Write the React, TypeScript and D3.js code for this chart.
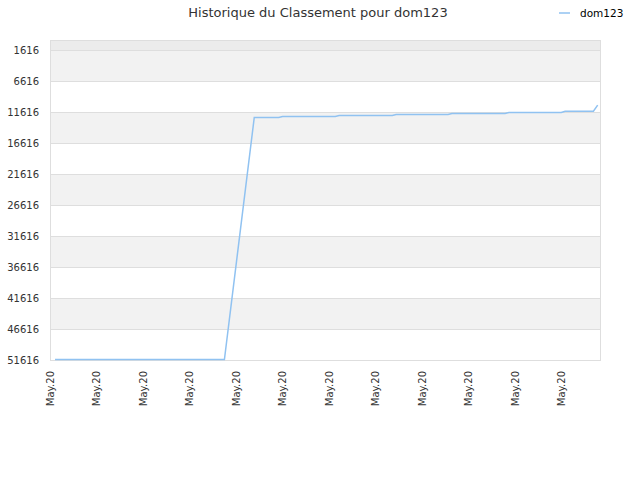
import * as d3 from "d3";

const playerName = "dom123";
const chartTitle = "Historique du Classement pour dom123";

// rank samples (times on 20 May 2020)
const sampleTimes = [
	"00:13", "07:30", "08:47", "09:50", "10:00", "12:16", "12:26", "14:43", "14:53",
	"17:07", "17:17", "19:34", "19:44", "21:59", "22:09", "23:22", "23:33",
];
const sampleRanks = [
	51530, 51530, 12500, 12500, 12340, 12340, 12180, 12180, 12020,
	12020, 11860, 11860, 11700, 11700, 11500, 11500, 10500,
];
const yTicks = [1616, 6616, 11616, 16616, 21616, 26616, 31616, 36616, 41616, 46616, 51616];
const xStart = "00:00";
const xEnd = "23:39";

const parseTime = d3.timeParse("%Y-%m-%d %H:%M");
const day = "2020-05-20";

function App() {
	const width = 640;
	const height = 480;
	const margin = { top: 40, right: 40, bottom: 120, left: 50 };
	const innerW = width - margin.left - margin.right;
	const innerH = height - margin.top - margin.bottom;
	const font = "DejaVu Sans, sans-serif";
	const lineColor = "#90c2f1";

	const points = sampleTimes.map((t, i) => ({
		date: parseTime(`${day} ${t}`) as Date,
		rank: sampleRanks[i],
	}));

	const x = d3
		.scaleTime()
		.domain([parseTime(`${day} ${xStart}`) as Date, parseTime(`${day} ${xEnd}`) as Date])
		.range([0, innerW]);
	const y = d3.scaleLinear().domain([0, yTicks[yTicks.length - 1]]).range([0, innerH]);

	const xTicks = x.ticks(d3.timeHour.every(2) as d3.TimeInterval);
	const fmt = d3.timeFormat("%b.%y");

	const line: any = d3
		.line<{ date: Date; rank: number }>()
		.x((d) => x(d.date))
		.y((d) => y(d.rank));

	return (
		<svg
			width={width}
			height={height}
			style={{ position: "absolute", left: 0, top: 0, background: "#fff" }}
			fontFamily={font}
		>
			<text x={318} y={17} textAnchor="middle" fontSize={13} fill="#333">
				{chartTitle}
			</text>
			<g transform="translate(559,13)">
				<line x1={0} x2={11} y1={0} y2={0} stroke={lineColor} strokeWidth={1.5} />
				<text x={21} y={3.5} fontSize={10.5} fill="#000">
					{playerName}
				</text>
			</g>
			<g transform={`translate(${margin.left},${margin.top})`}>
				<rect x={0} y={0} width={innerW} height={y(yTicks[0])} fill="#ececec" />
				{yTicks.slice(0, -1).map((t, i) =>
					i % 2 === 0 ? (
						<rect
							key={t}
							x={0}
							y={y(t)}
							width={innerW}
							height={y(yTicks[i + 1]) - y(t)}
							fill="#f2f2f2"
						/>
					) : null
				)}
				{yTicks.map((t) => (
					<g key={t}>
						<line x1={0} x2={innerW} y1={y(t) + 0.5} y2={y(t) + 0.5} stroke="#dedede" />
						<text x={-11} y={y(t)} dy="0.35em" textAnchor="end" fontSize={10} fill="#333">
							{t}
						</text>
					</g>
				))}
				<rect x={0.5} y={0.5} width={innerW} height={innerH} fill="none" stroke="#dedede" />
				<path d={line(points)} fill="none" stroke={lineColor} strokeWidth={1.5} />
				{xTicks.map((t, i) => (
					<text
						key={i}
						transform={`translate(${x(t)},${innerH + 11}) rotate(-90)`}
						dy="0.35em"
						textAnchor="end"
						fontSize={10}
						fill="#333"
					>
						{fmt(t)}
					</text>
				))}
			</g>
		</svg>
	);
}
export default App;
